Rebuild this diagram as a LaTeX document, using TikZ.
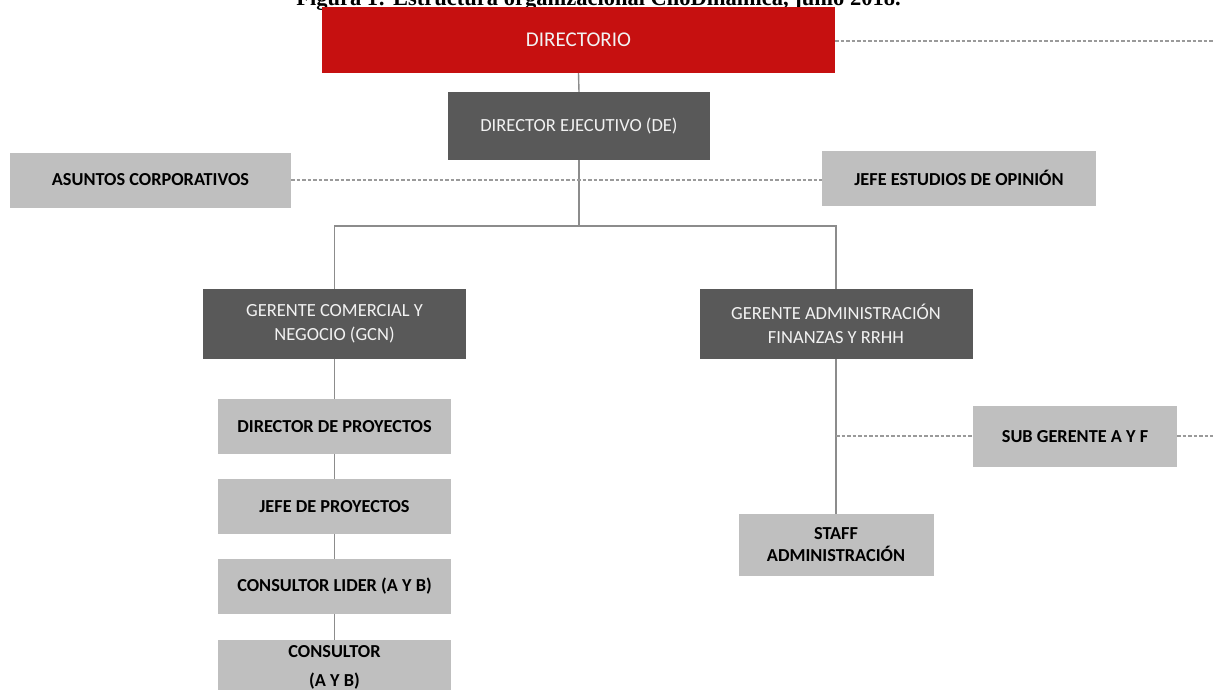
\documentclass[tikz,border=0pt]{standalone}
\usepackage{fontspec}
\setmainfont{Carlito}
\newfontfamily\captionfont{Liberation Serif}
\definecolor{boardred}{HTML}{C61010}
\definecolor{mgrgray}{HTML}{595959}
\definecolor{unitgray}{HTML}{BFBFBF}
\definecolor{linkgray}{HTML}{8C8C8C}
\definecolor{dashgray}{HTML}{9A9A9A}
\definecolor{lighttext}{HTML}{F2F2F2}
\tikzset{
  boardbox/.style={fill=boardred, text=lighttext, minimum width=513pt, minimum height=66pt,
    inner sep=0pt, font=\fontsize{21}{25}\selectfont},
  mgrbox/.style={fill=mgrgray, text=lighttext, inner sep=0pt, align=center,
    font=\fontsize{18.5}{24}\selectfont},
  unitbox/.style={fill=unitgray, text=black, inner sep=0pt, align=center,
    font=\bfseries\fontsize{18.3}{22}\selectfont}
,
  solidlink/.style={draw=linkgray, line width=1.4pt},
  dashlink/.style={draw=dashgray, line width=1.1pt, dash pattern=on 3.5pt off 2pt}
}
\begin{document}
\begin{tikzpicture}[x=1pt, y=-1pt]
  \clip (0,0) rectangle (1213,689);
  \fill[white] (0,0) rectangle (1213,689);

  % caption, only its lower part falls inside the page
  \node[anchor=base, inner sep=0pt, font=\captionfont\bfseries\fontsize{22.5}{26}\selectfont]
    (caption) at (598.5,5) {Figura 1: Estructura organizacional ClioDinámica, junio 2018.};

  % boxes
  \node[boardbox] (dir) at (578.5,40) {DIRECTORIO};
  \node[mgrbox, minimum width=262pt, minimum height=68pt] (de) at (579,126) {DIRECTOR EJECUTIVO (DE)};
  \node[unitbox, minimum width=281pt, minimum height=55pt] (asu) at (150.5,180) {ASUNTOS CORPORATIVOS};
  \node[unitbox, minimum width=274pt, minimum height=55pt] (opi) at (959,178) {JEFE ESTUDIOS DE OPINIÓN};

  \node[mgrbox, minimum width=263pt, minimum height=70pt] (gcn) at (334.5,324) {GERENTE COMERCIAL Y\\NEGOCIO (GCN)};
  \node[mgrbox, minimum width=273pt, minimum height=70pt] (gaf) at (836,324) {GERENTE ADMINISTRACIÓN\\FINANZAS Y RRHH};

  \node[unitbox, minimum width=233pt, minimum height=55pt] (dp) at (334.5,426.5) {DIRECTOR DE PROYECTOS};
  \node[unitbox, minimum width=233pt, minimum height=55pt] (jp) at (334.5,506.5) {JEFE DE PROYECTOS};
  \node[unitbox, minimum width=233pt, minimum height=55pt] (cl) at (334.5,586.5) {CONSULTOR LIDER (A Y B)};
  \node[unitbox, minimum width=233pt, minimum height=55pt,
        font=\bfseries\fontsize{18.3}{29}\selectfont] (co) at (334.5,667.5) {CONSULTOR\\(A Y B)};

  \node[unitbox, minimum width=204pt, minimum height=61pt] (sub) at (1075,436.5) {SUB GERENTE A Y F};
  \node[unitbox, minimum width=195pt, minimum height=62pt] (staff) at (836,545) {STAFF\\ADMINISTRACIÓN};

  % free ends and junctions
  \coordinate (dirend) at (1213,41);
  \coordinate (subend) at (1213,436);
  \coordinate (split) at (579,226);

  % solid reporting lines
  \draw[solidlink] (dir.south) -- (de.north);
  \draw[solidlink] (de.south) -- (split);
  \draw[solidlink] (gcn.north) -- (gcn.north |- split) -- (gaf.north |- split) -- (gaf.north);
  \draw[solidlink] (gcn.south) -- (dp.north);
  \draw[solidlink] (dp.south) -- (jp.north);
  \draw[solidlink] (jp.south) -- (cl.north);
  \draw[solidlink] (cl.south) -- (co.north);
  \draw[solidlink] (gaf.south) -- (staff.north);

  % dashed advisory lines
  \draw[dashlink] (dir.east |- dirend) -- (dirend);
  \draw[dashlink] (asu.east) -- (opi.west |- asu.east);
  \draw[dashlink] (gaf.south |- subend) -- (sub.west |- subend);
  \draw[dashlink] (sub.east |- subend) -- (subend);
\end{tikzpicture}
\end{document}
